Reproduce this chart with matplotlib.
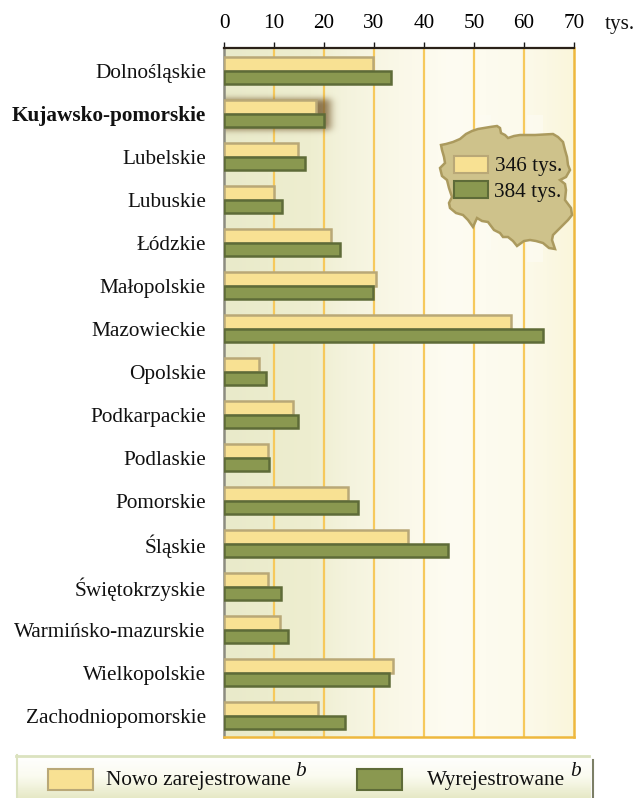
import math
import numpy as np
import matplotlib
matplotlib.use('Agg')
import matplotlib.pyplot as plt
from matplotlib.colors import LinearSegmentedColormap
from matplotlib.patches import Polygon, Rectangle

plt.rcParams['font.family'] = ['Liberation Serif', 'DejaVu Serif']

regions = ['Dolnośląskie', 'Kujawsko-pomorskie', 'Lubelskie', 'Lubuskie', 'Łódzkie',
           'Małopolskie', 'Mazowieckie', 'Opolskie', 'Podkarpackie', 'Podlaskie',
           'Pomorskie', 'Śląskie', 'Świętokrzyskie', 'Warmińsko-mazurskie',
           'Wielkopolskie', 'Zachodniopomorskie']
nowo = [29.8, 18.3, 14.8, 9.9, 21.3, 30.3, 57.3, 6.9, 13.8, 8.8, 24.8, 36.8, 8.8, 11.1, 33.8, 18.8]
wyrej = [33.3, 20, 16.1, 11.6, 23.1, 29.8, 63.8, 8.4, 14.8, 9, 26.7, 44.8, 11.4, 12.8, 32.9, 24.2]
xticks = [0, 10, 20, 30, 40, 50, 60, 70]
map_totals = ['346 tys.', '384 tys.']

W, H = 635, 798
FS = 15.3
YELLOW, YELLOW_EDGE = '#f8e193', '#b9a877'
GREEN, GREEN_EDGE = '#8a9850', '#5e6b38'
ORANGE = '#f6c95c'

# outline of Poland, in pixels of the figure
poland = [(441, 145), (446, 144), (453, 142), (460, 139), (466, 134), (472, 131), (478, 129),
          (490, 127), (497, 126), (500, 128), (501, 133), (505, 135), (508, 138), (514, 136),
          (520, 135), (535, 135), (553, 134), (558, 137), (563, 142), (565, 150), (567, 157),
          (568, 165), (570, 170), (566, 177), (560, 180), (565, 184), (566, 190), (565, 200),
          (571, 208), (572, 215), (568, 220), (560, 228), (553, 235), (552, 240), (555, 249),
          (549, 248), (543, 243), (536, 241), (530, 240), (524, 241), (517, 246), (513, 241),
          (508, 237), (503, 237), (500, 233), (494, 230), (488, 222), (482, 221), (477, 218),
          (473, 227), (468, 220), (463, 215), (456, 213), (450, 208), (449, 203), (452, 197),
          (449, 188), (447, 180), (442, 176), (440, 168), (445, 163), (444, 157), (442, 150)]

fig = plt.figure(figsize=(W / 100, H / 100), dpi=100)
ax = fig.add_axes([224 / W, 1 - 737 / H, 350 / W, 689 / H])

# background gradient of the plot
bg = LinearSegmentedColormap.from_list('bg', [(0, '#e9eaca'), (0.25, '#eeeed0'), (0.35, '#f4f3dd'),
                                              (0.5, '#faf8e8'), (0.65, '#fefcf2'), (0.85, '#fcfaec'),
                                              (1, '#faf6db')])
ax.imshow(np.linspace(0, 1, 256)[None, :], cmap=bg, aspect='auto', extent=(0, 70, 15.49, -0.535), zorder=0)

ypos = np.arange(len(regions))
ax.vlines(xticks[1:-1], -0.535, 15.49, color=ORANGE, lw=1.6, zorder=1)

# brown glow behind the highlighted region
erf = np.vectorize(math.erf)
gx = np.linspace(0, 28, 200)
gy = np.linspace(0.2, 1.8, 100)
gax = 0.5 * (erf((gx + 5) / 1.2) - erf((gx - 21.3) / 1.2))
gay = 0.5 * (erf((gy - 0.66) / 0.1) - erf((gy - 1.38) / 0.1))
glow = np.zeros((100, 200, 4))
glow[..., :3] = matplotlib.colors.to_rgb('#7d6238')
glow[..., 3] = 0.85 * np.outer(gay, gax)
ax.imshow(glow, aspect='auto', extent=(0, 28, 1.8, 0.2), zorder=2)

ax.barh(ypos - 0.16, nowo, height=0.31, color=YELLOW, edgecolor=YELLOW_EDGE, lw=1.8, zorder=3)
ax.barh(ypos + 0.15, wyrej, height=0.31, color=GREEN, edgecolor=GREEN_EDGE, lw=1.8, zorder=3)

ax.set_xlim(0, 70)
ax.set_ylim(15.49, -0.535)
ax.xaxis.tick_top()
ax.set_xticks(xticks)
ax.tick_params(axis='x', length=4, width=1, pad=7, labelsize=FS, color='#1a1a1a')
ax.set_yticks(ypos)
ax.set_yticklabels(regions, fontsize=FS, color='#111111')
ax.get_yticklabels()[1].set_fontweight('bold')
ax.tick_params(axis='y', length=0, pad=13)
ax.spines['top'].set_color('#2a2118')
ax.spines['top'].set_linewidth(1.6)
ax.spines['left'].set_color('#8c8c80')
ax.spines['left'].set_linewidth(1.8)
ax.spines['right'].set_color('#eeb83e')
ax.spines['right'].set_linewidth(1.8)
ax.spines['bottom'].set_color('#eeb83e')
ax.spines['bottom'].set_linewidth(1.8)

# overlay in figure pixels for the map and the bottom legend
over = fig.add_axes([0, 0, 1, 1], facecolor='none')
over.set_xlim(0, W)
over.set_ylim(H, 0)
over.axis('off')
over.text(605, 24, 'tys.', fontsize=FS, va='center', color='#111111')

for x, y, w, h in [(477, 115, 14, 16), (527, 115, 16, 20), (477, 222, 14, 28), (527, 238, 16, 24)]:
    over.add_patch(Rectangle((x, y), w, h, fc='#fdfcf4', ec='none', alpha=0.6))
over.add_patch(Polygon(poland, closed=True, fc='#cec28b', ec='#ab9a5e', lw=1.8))
over.add_patch(Rectangle((454, 156), 34, 17, fc=YELLOW, ec=YELLOW_EDGE, lw=1.5))
over.add_patch(Rectangle((454, 181), 34, 17, fc=GREEN, ec=GREEN_EDGE, lw=1.5))
over.text(495, 166, map_totals[0], fontsize=FS, va='center', color='#111111')
over.text(494, 192, map_totals[1], fontsize=FS, va='center', color='#111111')

# bottom legend band
band = LinearSegmentedColormap.from_list('band', ['#ffffff', '#fbfbf0', '#e6e9c6'])
over.imshow(np.linspace(0, 1, 64)[:, None], cmap=band, aspect='auto', extent=(16, 591, 798, 755), zorder=0)
over.set_xlim(0, W)
over.set_ylim(H, 0)
over.plot([16, 589], [755.5, 755.5], color='#dbe2bf', lw=2)
over.plot([16.5, 16.5], [755, 798], color='#dbe2bf', lw=1.5)
over.plot([592.5, 592.5], [760, 798], color='#7c7f66', lw=1.5)
over.add_patch(Rectangle((48, 769), 45, 21, fc=YELLOW, ec=YELLOW_EDGE, lw=1.5))
over.add_patch(Rectangle((357, 769), 45, 21, fc=GREEN, ec=GREEN_EDGE, lw=1.5))
over.text(106, 781, 'Nowo zarejestrowane', fontsize=FS, va='center', color='#111111')
over.text(295, 771, 'b', fontsize=FS, style='italic', va='center', color='#111111')
over.text(427, 781, 'Wyrejestrowane', fontsize=FS, va='center', color='#111111')
over.text(570, 771, 'b', fontsize=FS, style='italic', va='center', color='#111111')

fig.savefig('out.png', dpi=100)
